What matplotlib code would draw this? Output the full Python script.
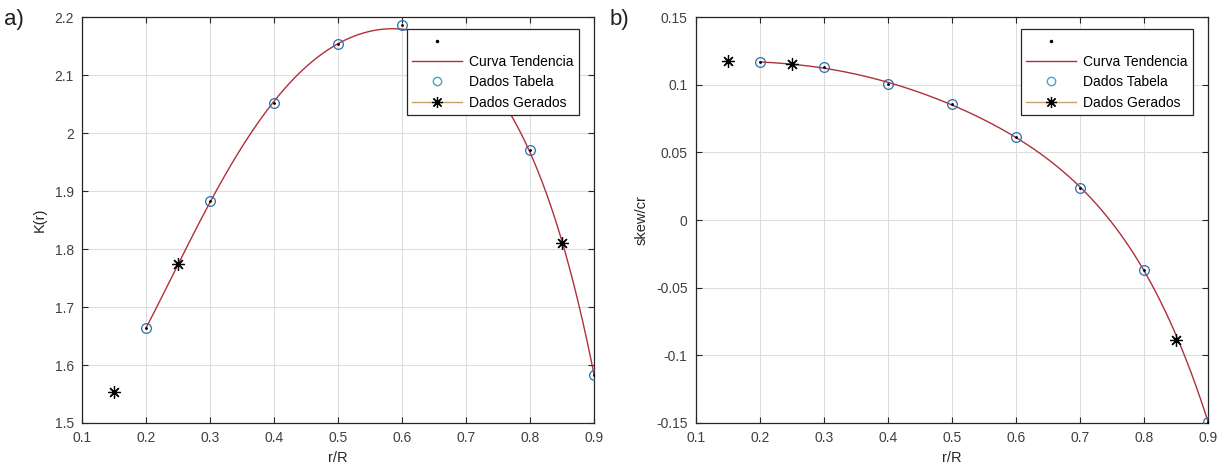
import numpy as np
import matplotlib
matplotlib.use("Agg")
import matplotlib.pyplot as plt
from matplotlib.lines import Line2D
from matplotlib.ticker import FuncFormatter

plt.rcParams['font.family'] = ['Liberation Sans', 'DejaVu Sans']

# dados
r_tabela = [0.2, 0.3, 0.4, 0.5, 0.6, 0.7, 0.8, 0.9]
k_tabela = [1.663, 1.883, 2.051, 2.153, 2.187, 2.12, 1.971, 1.583]
skew_tabela = [0.1167, 0.1128, 0.1006, 0.0858, 0.0613, 0.0236, -0.0369, -0.149]

r_gerado = [0.15, 0.25, 0.85]
k_gerado = [1.554, 1.774, 1.810]
skew_gerado = [0.1177, 0.1153, -0.0886]

x_ticks = [0.1, 0.2, 0.3, 0.4, 0.5, 0.6, 0.7, 0.8, 0.9]
k_ticks = [1.5, 1.6, 1.7, 1.8, 1.9, 2.0, 2.1, 2.2]
skew_ticks = [-0.15, -0.1, -0.05, 0, 0.05, 0.1, 0.15]

cor_curva = '#b0303a'
cor_circ = '#2a70a8'
asterisco = (8, 2, 0)


def painel(ax, y_tab, y_ger, yticks, ylabel, grau):
    # curva de tendencia (ajuste polinomial dos dados da tabela)
    coef = np.polyfit(r_tabela, y_tab, grau)
    xs = np.linspace(r_tabela[0], r_tabela[-1], 200)
    ax.plot(xs, np.polyval(coef, xs), color=cor_curva, lw=1.0, zorder=3)
    ax.plot(r_tabela, y_tab, 'o', ms=7, mfc='none', mec=cor_circ, mew=0.9, zorder=4)
    ax.plot(r_tabela, y_tab, '.', color='k', ms=2, zorder=5)
    ax.plot(r_gerado, y_ger, ls='none', marker=asterisco, ms=9, color='k', mew=0.9, zorder=5)

    ax.set_xlim(x_ticks[0], x_ticks[-1])
    ax.set_ylim(yticks[0], yticks[-1])
    ax.set_xticks(x_ticks)
    ax.set_yticks(yticks)
    fmt = FuncFormatter(lambda v, p: '%g' % round(v, 4))
    ax.xaxis.set_major_formatter(fmt)
    ax.yaxis.set_major_formatter(fmt)
    ax.grid(True, color='#dedede', lw=0.8)
    ax.set_axisbelow(True)
    ax.tick_params(direction='in', top=True, right=True, length=4, pad=6,
                   labelsize=10, labelcolor='#404040', color='#262626')
    for s in ax.spines.values():
        s.set_color('#262626')
        s.set_linewidth(0.9)
    ax.set_xlabel('r/R', fontsize=10.5, color='#262626', labelpad=4)
    ax.set_ylabel(ylabel, fontsize=10.5, color='#262626', labelpad=5)

    handles = [
        Line2D([], [], ls='none', marker='.', ms=3, color='k'),
        Line2D([], [], color=cor_curva, lw=1.0),
        Line2D([], [], ls='none', marker='o', ms=6, mfc='none', mec='#4aa3c4'),
        Line2D([], [], color='#c8a070', lw=1.0, marker=asterisco, ms=8, mec='k', mew=0.9),
    ]
    labels = [' ', 'Curva Tendencia', 'Dados Tabela', 'Dados Gerados']
    leg = ax.legend(handles, labels, loc='upper right', bbox_to_anchor=(0.971, 0.97),
                    fontsize=10, handlelength=3.6, labelspacing=0.45, borderpad=0.4,
                    handletextpad=0.5, fancybox=False, framealpha=1, borderaxespad=0)
    leg.get_frame().set_edgecolor('#262626')
    leg.get_frame().set_linewidth(0.9)
    leg.set_zorder(10)


fig = plt.figure(figsize=(12.27, 4.74), dpi=100)
ax1 = fig.add_axes([0.0668, 0.1076, 0.4173, 0.8565])
ax2 = fig.add_axes([0.5672, 0.1076, 0.4173, 0.8565])

painel(ax1, k_tabela, k_gerado, k_ticks, 'K(r)', 5)
painel(ax2, skew_tabela, skew_gerado, skew_ticks, 'skew/cr', 5)

fig.text(0.003, 0.948, 'a)', fontsize=16, color='#202020')
fig.text(0.497, 0.948, 'b)', fontsize=16, color='#202020')

fig.savefig('out.png', dpi=100)
